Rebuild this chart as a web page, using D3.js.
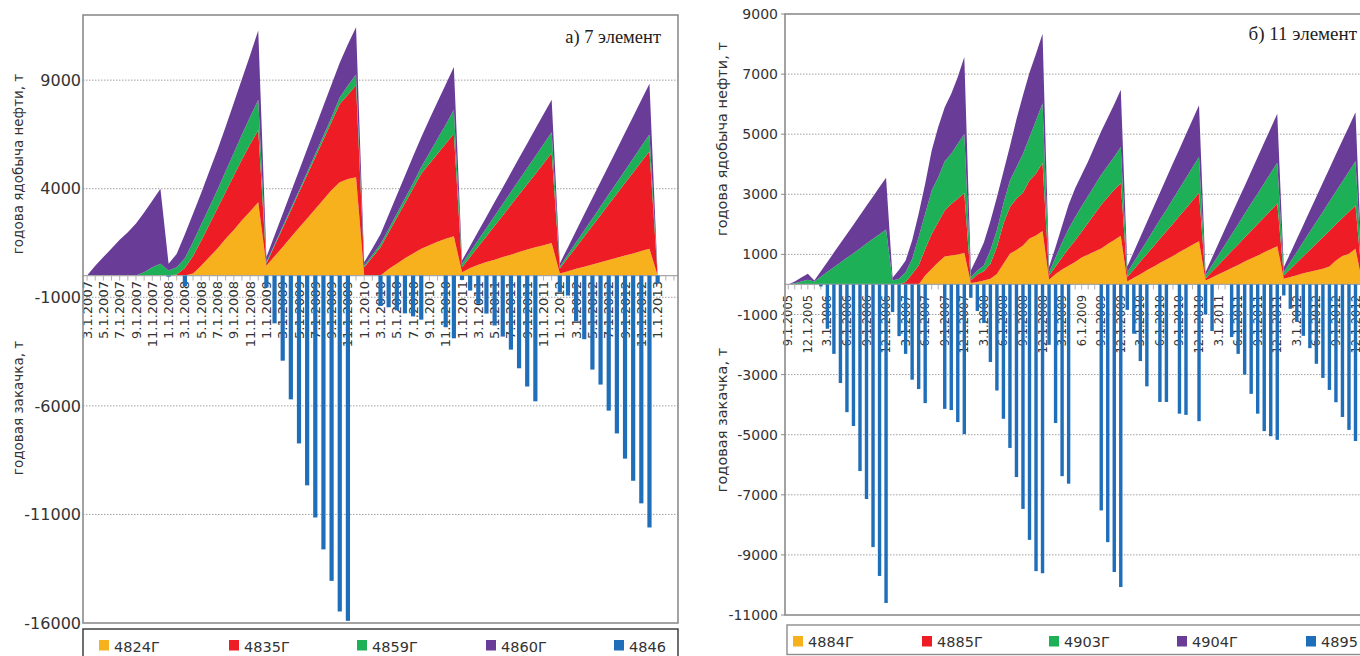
<!DOCTYPE html>
<html><head><meta charset="utf-8">
<script src="https://cdn.jsdelivr.net/npm/d3@7"></script>
<style>body{margin:0;background:#fff}svg{display:block}</style>
</head><body><svg id="c" width="1360" height="656"></svg>
<script>
// ---------- LEFT PANEL (а) 7 элемент) ----------
const leftMonths = ["3.1.2007","4.1.2007","5.1.2007","6.1.2007","7.1.2007","8.1.2007","9.1.2007","10.1.2007","11.1.2007","12.1.2007",
"1.1.2008","2.1.2008","3.1.2008","4.1.2008","5.1.2008","6.1.2008","7.1.2008","8.1.2008","9.1.2008","10.1.2008","11.1.2008","12.1.2008",
"1.1.2009","2.1.2009","3.1.2009","4.1.2009","5.1.2009","6.1.2009","7.1.2009","8.1.2009","9.1.2009","10.1.2009","11.1.2009","12.1.2009",
"1.1.2010","2.1.2010","3.1.2010","4.1.2010","5.1.2010","6.1.2010","7.1.2010","8.1.2010","9.1.2010","10.1.2010","11.1.2010","12.1.2010",
"1.1.2011","2.1.2011","3.1.2011","4.1.2011","5.1.2011","6.1.2011","7.1.2011","8.1.2011","9.1.2011","10.1.2011","11.1.2011","12.1.2011",
"1.1.2012","2.1.2012","3.1.2012","4.1.2012","5.1.2012","6.1.2012","7.1.2012","8.1.2012","9.1.2012","10.1.2012","11.1.2012","12.1.2012",
"1.1.2013","2.1.2013","3.1.2013"];
const leftXLabels = ["3.1.2007","5.1.2007","7.1.2007","9.1.2007","11.1.2007","1.1.2008","3.1.2008","5.1.2008","7.1.2008","9.1.2008","11.1.2008",
"1.1.2009","3.1.2009","5.1.2009","7.1.2009","9.1.2009","11.1.2009","1.1.2010","3.1.2010","5.1.2010","7.1.2010","9.1.2010","11.1.2010",
"1.1.2011","3.1.2011","5.1.2011","7.1.2011","9.1.2011","11.1.2011","1.1.2012","3.1.2012","5.1.2012","7.1.2012","9.1.2012","11.1.2012","1.1.2013"];
const leftYTicks = [9000,4000,-1000,-6000,-11000,-16000];
const w4824 = [0,0,0,0,0,0,0,0,0,0,
 0,0,0,100,450,850,1250,1700,2100,2550,2950,3380,
 450,890,1320,1760,2200,2630,3070,3500,3940,4300,4450,4530,
 0,0,0,300,550,800,1020,1230,1400,1560,1700,1810,
 150,350,500,620,730,850,960,1080,1200,1300,1400,1500,
 100,200,310,410,510,610,720,820,920,1020,1130,1230,
 0,null,null];
const w4835 = [0,0,0,0,0,0,0,0,0,0,
 0,50,350,800,1150,1500,1850,2150,2500,2800,3100,3320,
 100,480,860,1240,1620,2000,2380,2770,3140,3600,3880,4230,
 380,840,1300,1680,2110,2530,2990,3460,3750,4050,4370,4720,
 230,510,840,1190,1560,1920,2290,2650,3010,3380,3760,4140,
 230,620,1000,1390,1780,2170,2560,2950,3340,3730,4110,4500,
 0,null,null];
const w4859 = [0,0,0,0,0,0,0,150,380,550,
 230,330,450,650,750,800,850,950,1050,1150,1250,1400,
 70,60,80,90,100,130,150,170,210,300,420,500,
 70,110,150,170,190,220,240,310,500,690,880,1110,
 160,230,300,380,450,530,600,670,740,820,890,960,
 90,150,220,280,340,400,460,520,580,640,710,770,
 0,null,null];
const w4860 = [0,450,850,1250,1650,2000,2400,2750,3070,3450,
 310,620,1100,1300,1450,1650,1850,2050,2300,2550,2850,3190,
 230,420,580,750,910,1070,1220,1380,1520,1600,1900,2180,
 160,300,450,650,850,1050,1250,1370,1550,1700,1850,1960,
 150,270,400,520,650,760,880,1010,1130,1260,1380,1500,
 140,340,530,740,940,1140,1330,1530,1740,1940,2130,2330,
 0,null,null];
const w4846 = [0,0,0,0,0,0,0,0,0,0,
 -50,0,-490,0,0,0,0,0,0,0,0,0,
 -550,-2200,-3920,-5700,-7730,-9660,-11140,-12610,-14060,-15470,-15900,0,
 0,0,-1400,-1460,-1600,-1740,-1880,-2030,0,0,-2380,-2890,
 -200,-690,-1300,-1750,-2300,-2810,-3410,-4270,-5110,-5790,0,0,
 -770,-920,-2100,-2930,-4330,-5020,-6220,-7270,-8430,-9450,-10490,-11600,
 -350,0,0];

// ---------- RIGHT PANEL (б) 11 элемент) ----------
const rightMonths = ["9.1.2005","10.1.2005","11.1.2005","12.1.2005",
"1.1.2006","2.1.2006","3.1.2006","4.1.2006","5.1.2006","6.1.2006","7.1.2006","8.1.2006","9.1.2006","10.1.2006","11.1.2006","12.1.2006",
"1.1.2007","2.1.2007","3.1.2007","4.1.2007","5.1.2007","6.1.2007","7.1.2007","8.1.2007","9.1.2007","10.1.2007","11.1.2007","12.1.2007",
"1.1.2008","2.1.2008","3.1.2008","4.1.2008","5.1.2008","6.1.2008","7.1.2008","8.1.2008","9.1.2008","10.1.2008","11.1.2008","12.1.2008",
"1.1.2009","2.1.2009","3.1.2009","4.1.2009","5.1.2009","6.1.2009","7.1.2009","8.1.2009","9.1.2009","10.1.2009","11.1.2009","12.1.2009",
"1.1.2010","2.1.2010","3.1.2010","4.1.2010","5.1.2010","6.1.2010","7.1.2010","8.1.2010","9.1.2010","10.1.2010","11.1.2010","12.1.2010",
"1.1.2011","2.1.2011","3.1.2011","4.1.2011","5.1.2011","6.1.2011","7.1.2011","8.1.2011","9.1.2011","10.1.2011","11.1.2011","12.1.2011",
"1.1.2012","2.1.2012","3.1.2012","4.1.2012","5.1.2012","6.1.2012","7.1.2012","8.1.2012","9.1.2012","10.1.2012","11.1.2012","12.1.2012",
"1.1.2013","2.1.2013"];
const rightXLabels = ["9.1.2005","12.1.2005","3.1.2006","6.1.2006","9.1.2006","12.1.2006","3.1.2007","6.1.2007","9.1.2007","12.1.2007",
"3.1.2008","6.1.2008","9.1.2008","12.1.2008","3.1.2009","6.1.2009","9.1.2009","12.1.2009","3.1.2010","6.1.2010","9.1.2010","12.1.2010",
"3.1.2011","6.1.2011","9.1.2011","12.1.2011","3.1.2012","6.1.2012","9.1.2012","12.1.2012"];
const rightYTicks = [9000,7000,5000,3000,1000,-1000,-3000,-5000,-7000,-9000,-11000];
const w4884 = [0,0,0,0,
 0,0,0,0,0,0,0,0,0,0,0,0,
 0,0,0,0,0,300,520,740,930,960,1000,1050,
 45,80,130,190,350,690,1020,1150,1300,1530,1630,1775,
 155,350,500,620,750,900,1000,1100,1200,1350,1480,1620,
 100,220,340,470,590,710,830,950,1080,1200,1320,1440,
 130,230,340,440,550,650,760,860,960,1070,1170,1275,
 190,250,310,370,420,470,520,600,800,950,1020,1190,
 100,null];
const w4885 = [0,0,0,0,
 0,0,0,0,0,0,0,0,0,0,0,0,
 0,0,80,350,630,880,1160,1330,1530,1720,1850,1990,
 88,250,310,500,900,1330,1560,1700,1750,1930,2060,2275,
 145,250,400,580,710,850,1050,1250,1450,1550,1670,1750,
 150,280,420,540,670,810,940,1070,1200,1330,1470,1600,
 70,200,310,440,560,680,800,930,1050,1170,1290,1415,
 110,260,410,570,730,890,1050,1180,1200,1260,1400,1440,
 100,null];
const w4903 = [0,40,100,155,
 100,260,420,570,730,890,1040,1200,1360,1520,1670,1830,
 130,190,330,500,950,1170,1450,1500,1640,1670,1830,1970,
 107,136,190,450,550,670,880,1050,1300,1440,1770,1980,
 110,300,500,650,780,850,900,950,1000,1050,1100,1200,
 150,250,340,440,540,630,720,820,910,1010,1100,1200,
 100,210,330,440,550,670,790,900,1020,1130,1250,1360,
 110,240,360,480,600,730,850,980,1090,1220,1340,1470,
 100,null];
const w4904 = [0,60,130,200,
 33,180,330,490,640,790,950,1100,1260,1410,1570,1720,
 90,300,390,610,770,1000,1330,1670,1800,2000,2220,2560,
 226,445,770,960,1100,1060,1140,1600,1950,2150,2220,2310,
 170,350,550,800,960,1050,1150,1300,1450,1600,1750,1910,
 200,340,480,620,760,900,1050,1190,1320,1460,1590,1720,
 110,250,390,530,670,810,930,1070,1210,1350,1490,1630,
 165,290,430,560,700,830,970,1100,1240,1370,1500,1630,
 100,null];
const w4895 = [0,0,0,0,
 0,-67,-1475,-2310,-3280,-4250,-4710,-6210,-7140,-8740,-9700,-10600,
 -920,-1720,-2310,-3170,-3480,-3950,0,0,-4140,-4180,-4580,-4980,
 -445,-885,-1285,-2580,-3530,-4470,-5440,-6410,-7470,-8500,-9540,-9610,
 -2010,-4610,-6380,-6630,0,0,0,0,-7520,-8575,-9570,-10070,
 -845,-1640,-2550,-3390,0,-3910,-3910,0,-4300,-4340,0,-4550,
 -1000,-1550,0,0,-1750,-2310,-3000,-3640,-4300,-4880,-5050,-5170,
 -366,-810,-1250,-1710,-2120,-2640,-3110,-3510,-3920,-4410,-4840,-5210,
 0,0];

const COL = {o:'#F6B11C', r:'#EE1D25', g:'#1EB056', p:'#693D97', b:'#1F6EBA'};
const FONT = "'DejaVu Sans', sans-serif";
const svg = d3.select('#c');

function panel(cfg){
  const g = svg.append('g');
  const x = d3.scaleBand().domain(cfg.months).range([cfg.x0, cfg.x1]);
  const bw = x.bandwidth();
  const cx = m => x(m) + bw/2;
  const y = d3.scaleLinear().domain(cfg.yDomain).range([cfg.y1, cfg.y0]);
  const y0 = y(0);

  // grid lines
  g.selectAll('line.grid').data(cfg.yTicks.filter(t => t > cfg.yDomain[0] && t < cfg.yDomain[1]))
    .enter().append('line')
    .attr('x1', cfg.x0).attr('x2', cfg.x1)
    .attr('y1', d => y(d)).attr('y2', d => y(d))
    .attr('stroke', '#a0a0a0').attr('stroke-width', 1).attr('stroke-dasharray', '1.5,1.5');

  // stacked areas
  const keys = cfg.series.map(s => s.name);
  const rows = cfg.months.map((m, i) => {
    const r = {m, ok: cfg.series[0].values[i] != null};
    cfg.series.forEach(s => r[s.name] = s.values[i] == null ? 0 : s.values[i]);
    return r;
  });
  const layers = d3.stack().keys(keys)(rows);
  const area = d3.area().defined(d => d.data.ok)
    .x(d => cx(d.data.m)).y0(d => y(d[0])).y1(d => y(d[1]));
  g.selectAll('path.layer').data(layers).enter().append('path')
    .attr('d', area).attr('fill', (d, i) => cfg.series[i].color);

  // zero axis
  g.append('line').attr('x1', cfg.x0).attr('x2', cfg.x1).attr('y1', y0).attr('y2', y0)
    .attr('stroke', '#a6a6a6').attr('stroke-width', 1.3);
  g.selectAll('line.tk').data(cfg.months).enter().append('line')
    .attr('x1', d => cx(d)).attr('x2', d => cx(d)).attr('y1', y0).attr('y2', y0 + 5)
    .attr('stroke', '#b0b0b0').attr('stroke-width', 1);

  // x labels
  g.selectAll('text.xl').data(cfg.xLabels).enter().append('text')
    .attr('transform', d => `translate(${cx(d)},${y0 + cfg.labOff}) rotate(-90)`)
    .attr('text-anchor', 'end').attr('dy', '0.35em')
    .attr('font-family', FONT).attr('font-size', cfg.labSize).attr('fill', '#333')
    .text(d => d);

  // bars
  g.selectAll('rect.bar').data(cfg.months.map((m, i) => ({m, v: cfg.bars.values[i]})).filter(d => d.v < 0))
    .enter().append('rect')
    .attr('x', d => cx(d.m) - cfg.barW/2).attr('width', cfg.barW)
    .attr('y', y0).attr('height', d => y(d.v) - y0)
    .attr('fill', cfg.bars.color);

  // y ticks & labels
  if (cfg.yTickLen) {
    g.selectAll('line.yt').data(cfg.yTicks).enter().append('line')
      .attr('x1', cfg.x0 - cfg.yTickLen).attr('x2', cfg.x0)
      .attr('y1', d => y(d)).attr('y2', d => y(d))
      .attr('stroke', '#8c8c8c').attr('stroke-width', 1);
  }
  g.selectAll('text.yl').data(cfg.yTicks).enter().append('text')
    .attr('x', cfg.x0 - cfg.yLabPad).attr('y', d => y(d)).attr('dy', '0.36em')
    .attr('text-anchor', 'end').attr('font-family', FONT).attr('font-size', cfg.yLabSize)
    .attr('fill', '#333').text(d => d);

  // border
  g.append('rect').attr('x', cfg.x0).attr('y', cfg.y0)
    .attr('width', cfg.x1 - cfg.x0).attr('height', cfg.y1 - cfg.y0)
    .attr('fill', 'none').attr('stroke', '#8c8c8c').attr('stroke-width', 1.6);

  // axis titles
  cfg.titles.forEach(t => {
    g.append('text').attr('transform', `translate(${t.x},${t.y}) rotate(-90)`)
      .attr('text-anchor', 'middle').attr('font-family', FONT).attr('font-size', cfg.titleSize)
      .attr('fill', '#333').text(t.text);
  });

  // panel caption
  g.append('text').attr('x', cfg.cap.x).attr('y', cfg.cap.y).attr('text-anchor', 'end')
    .attr('font-family', "'Liberation Serif', 'Times New Roman', serif").attr('font-size', cfg.cap.size)
    .attr('fill', '#222').text(cfg.cap.text);

  // legend
  const L = cfg.legend;
  g.append('rect').attr('x', L.x).attr('y', L.y).attr('width', L.w).attr('height', L.h)
    .attr('fill', 'none').attr('stroke', L.stroke).attr('stroke-width', 1.4);
  const items = cfg.series.map(s => ({name: s.name, color: s.color})).concat([{name: cfg.bars.name, color: cfg.bars.color}]);
  items.forEach((it, i) => {
    g.append('rect').attr('x', L.xs[i]).attr('y', L.sy).attr('width', 10).attr('height', 10.5).attr('fill', it.color);
    g.append('text').attr('x', L.xs[i] + 15).attr('y', L.ty).attr('font-family', FONT)
      .attr('font-size', L.size).attr('fill', '#333').text(it.name);
  });
}

panel({
  months: leftMonths, xLabels: leftXLabels, yTicks: leftYTicks,
  x0: 83, x1: 678, y0: 15, y1: 623, yDomain: [-16000, 12000],
  series: [{name:'4824Г', values:w4824, color:COL.o}, {name:'4835Г', values:w4835, color:COL.r},
           {name:'4859Г', values:w4859, color:COL.g}, {name:'4860Г', values:w4860, color:COL.p}],
  bars: {name:'4846', values:w4846, color:COL.b},
  barW: 4.2, labOff: 5.5, labSize: 13, yLabSize: 16, yLabPad: 2, yTickLen: 0, titleSize: 13.5,
  titles: [{x: 23, y: 164, text: 'годова ядобыча нефти, т'}, {x: 23, y: 408, text: 'годовая закачка, т'}],
  cap: {x: 661, y: 43, size: 18.5, text: 'а) 7 элемент'},
  legend: {x: 83, y: 629, w: 595, h: 40, stroke: '#333', xs: [99, 229, 357, 486, 614], sy: 640, ty: 651.5, size: 14.5}
});

panel({
  months: rightMonths, xLabels: rightXLabels, yTicks: rightYTicks,
  x0: 785, x1: 1371.8, y0: 14, y1: 615, yDomain: [-11000, 9000],
  series: [{name:'4884Г', values:w4884, color:COL.o}, {name:'4885Г', values:w4885, color:COL.r},
           {name:'4903Г', values:w4903, color:COL.g}, {name:'4904Г', values:w4904, color:COL.p}],
  bars: {name:'4895', values:w4895, color:COL.b},
  barW: 3.4, labOff: 10.5, labSize: 11.5, yLabSize: 14, yLabPad: 7, yTickLen: 4, titleSize: 14.5,
  titles: [{x: 727, y: 139, text: 'годова ядобыча нефти, т'}, {x: 727, y: 420, text: 'годовая закачка, т'}],
  cap: {x: 1357, y: 40, size: 19, text: 'б) 11 элемент'},
  legend: {x: 787, y: 625, w: 600, h: 29.5, stroke: '#8c8c8c', xs: [793, 922, 1049, 1177, 1306], sy: 636, ty: 646.5, size: 14.5}
});
</script></body></html>
